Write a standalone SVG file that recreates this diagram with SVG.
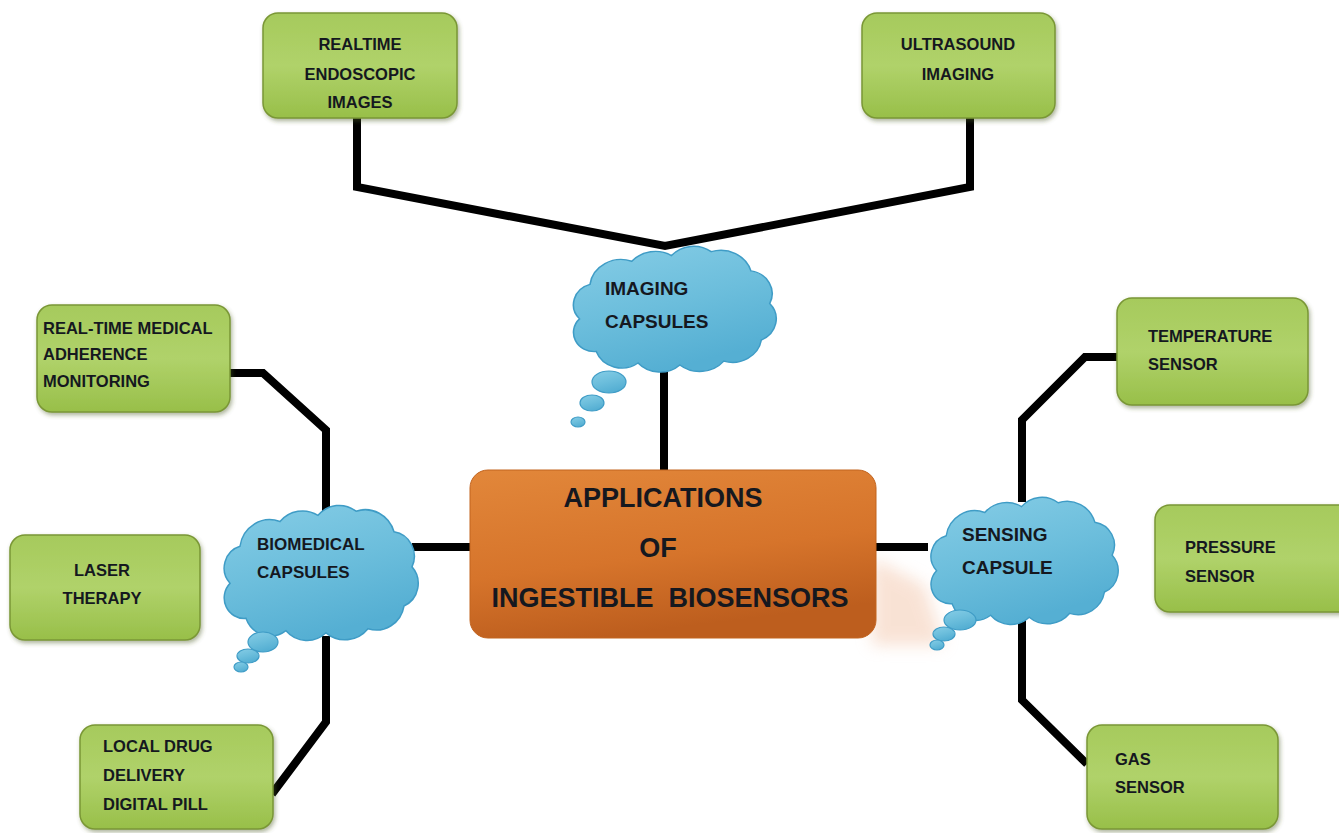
<svg xmlns="http://www.w3.org/2000/svg" width="1339" height="833" viewBox="0 0 1339 833">
  <defs>
    <linearGradient id="gGreen" x1="0" y1="0" x2="0" y2="1">
      <stop offset="0" stop-color="#a6ca5c"/>
      <stop offset="0.5" stop-color="#b0d26a"/>
      <stop offset="1" stop-color="#98bf49"/>
    </linearGradient>
    <linearGradient id="gOrange" x1="0" y1="0" x2="0.3" y2="1">
      <stop offset="0" stop-color="#e2873a"/>
      <stop offset="0.6" stop-color="#d6742b"/>
      <stop offset="1" stop-color="#bd5e1e"/>
    </linearGradient>
    <linearGradient id="gBlue" x1="0" y1="0" x2="0.4" y2="1">
      <stop offset="0" stop-color="#86cde6"/>
      <stop offset="0.55" stop-color="#6cbedc"/>
      <stop offset="1" stop-color="#55afd3"/>
    </linearGradient>
    <filter id="shadow" x="-10%" y="-10%" width="125%" height="130%">
      <feDropShadow dx="1.5" dy="2.5" stdDeviation="2" flood-color="#4b5a20" flood-opacity="0.45"/>
    </filter>
    <filter id="soft" x="-50%" y="-50%" width="200%" height="200%">
      <feGaussianBlur stdDeviation="8"/>
    </filter>
    <!-- generic cloud outline in a 200 x 133 unit box -->
    <path id="cloud" d="M12,78 A22,22 0 0 1 22,42 A30,30 0 0 1 62,18 A30,30 0 0 1 100,12 A28,28 0 0 1 138,8 A30,30 0 0 1 176,28 A24,24 0 0 1 194,62 A24,24 0 0 1 186,100 A28,28 0 0 1 150,122 A30,30 0 0 1 108,126 A28,28 0 0 1 68,124 A26,26 0 0 1 28,112 A20,20 0 0 1 12,78 Z"/>
  </defs>
  <style>
    .box { fill: url(#gGreen); stroke: #7a9736; stroke-width: 1.5; filter: url(#shadow); }
    .core { fill: url(#gOrange); stroke: #c2641f; stroke-width: 1; }
    .cloud { fill: url(#gBlue); stroke: #3f9cc6; stroke-width: 1.5; }
    .bub { fill: url(#gBlue); stroke: #3f9cc6; stroke-width: 1.2; }
    .t { font-family: "Liberation Sans", Arial, sans-serif; font-weight: bold; fill: #15181f; }
    .bt { font-size: 16.5px; }
    .ct { font-size: 19px; }
    .mt { font-size: 27px; }
    .mid { text-anchor: middle; }
    .link { fill: none; stroke: #000; stroke-width: 8; stroke-linejoin: miter; }
  </style>

  <rect width="1339" height="833" fill="#ffffff"/>

  <!-- faint peach glow beside the central box -->
  <polygon points="872,558 924,585 944,645 872,645" fill="#f3c6ab" opacity="0.5" filter="url(#soft)"/>

  <g id="connectors">
    <path class="link" d="M357,118 V187 L665,246 L970,187 V118"/>
    <path class="link" d="M664,368 V470"/>
    <path class="link" d="M470,547 H412"/>
    <path class="link" d="M876,547 H928"/>
    <path class="link" d="M230,373 H263 L326,430 V512"/>
    <path class="link" d="M326,636 V722 L272,794"/>
    <path class="link" d="M1118,357 H1085 L1022,420 V502"/>
    <path class="link" d="M1022,620 V700 L1087,764"/>
  </g>

  <g id="node-realtime">
    <rect class="box" x="263" y="13" width="194" height="105" rx="15"/>
    <text class="t bt mid" x="360" y="50">REALTIME</text>
    <text class="t bt mid" x="360" y="80">ENDOSCOPIC</text>
    <text class="t bt mid" x="360" y="108">IMAGES</text>
  </g>

  <g id="node-ultrasound">
    <rect class="box" x="862" y="13" width="193" height="105" rx="15"/>
    <text class="t bt mid" x="958" y="50">ULTRASOUND</text>
    <text class="t bt mid" x="958" y="80">IMAGING</text>
  </g>

  <g id="node-imaging">
    <use href="#cloud" class="cloud" vector-effect="non-scaling-stroke" transform="translate(567,244) scale(1.045,0.96)"/>
    <ellipse class="bub" cx="609" cy="382" rx="17" ry="11"/>
    <ellipse class="bub" cx="592" cy="403" rx="12" ry="8"/>
    <ellipse class="bub" cx="578" cy="422" rx="7" ry="5"/>
    <text class="t ct" x="605" y="295">IMAGING</text>
    <text class="t ct" x="605" y="328">CAPSULES</text>
  </g>

  <g id="node-applications">
    <rect class="core" x="470" y="470" width="406" height="168" rx="18"/>
    <text class="t mt mid" x="663" y="507">APPLICATIONS</text>
    <text class="t mt mid" x="658" y="557">OF</text>
    <text class="t mt mid" x="670" y="607" xml:space="preserve">INGESTIBLE  BIOSENSORS</text>
  </g>

  <g id="node-biomedical">
    <use href="#cloud" class="cloud" vector-effect="non-scaling-stroke" transform="translate(218,503) scale(1.0,1.03)"/>
    <ellipse class="bub" cx="263" cy="642" rx="15" ry="10"/>
    <ellipse class="bub" cx="248" cy="656" rx="11" ry="7"/>
    <ellipse class="bub" cx="241" cy="667" rx="7" ry="5"/>
    <text class="t" font-size="17" x="257" y="550">BIOMEDICAL</text>
    <text class="t" font-size="17" x="257" y="578">CAPSULES</text>
  </g>

  <g id="node-sensing">
    <use href="#cloud" class="cloud" vector-effect="non-scaling-stroke" transform="translate(925,495) scale(0.965,0.97)"/>
    <ellipse class="bub" cx="960" cy="620" rx="16" ry="10"/>
    <ellipse class="bub" cx="944" cy="634" rx="11" ry="7"/>
    <ellipse class="bub" cx="937" cy="645" rx="7" ry="5"/>
    <text class="t ct" x="962" y="541">SENSING</text>
    <text class="t ct" x="962" y="574">CAPSULE</text>
  </g>

  <g id="node-adherence">
    <rect class="box" x="37" y="305" width="193" height="107" rx="15"/>
    <text class="t bt" x="43" y="334">REAL-TIME MEDICAL</text>
    <text class="t bt" x="43" y="360">ADHERENCE</text>
    <text class="t bt" x="43" y="387">MONITORING</text>
  </g>

  <g id="node-laser">
    <rect class="box" x="10" y="535" width="190" height="105" rx="15"/>
    <text class="t bt mid" x="102" y="576">LASER</text>
    <text class="t bt mid" x="102" y="604">THERAPY</text>
  </g>

  <g id="node-drug">
    <rect class="box" x="80" y="725" width="193" height="104" rx="15"/>
    <text class="t bt" x="103" y="752">LOCAL DRUG</text>
    <text class="t bt" x="103" y="781">DELIVERY</text>
    <text class="t bt" x="103" y="810">DIGITAL PILL</text>
  </g>

  <g id="node-temperature">
    <rect class="box" x="1117" y="298" width="191" height="107" rx="15"/>
    <text class="t bt" x="1148" y="342">TEMPERATURE</text>
    <text class="t bt" x="1148" y="370">SENSOR</text>
  </g>

  <g id="node-pressure">
    <rect class="box" x="1155" y="505" width="200" height="107" rx="15"/>
    <text class="t bt" x="1185" y="553">PRESSURE</text>
    <text class="t bt" x="1185" y="582">SENSOR</text>
  </g>

  <g id="node-gas">
    <rect class="box" x="1087" y="725" width="191" height="104" rx="15"/>
    <text class="t bt" x="1115" y="765">GAS</text>
    <text class="t bt" x="1115" y="793">SENSOR</text>
  </g>
</svg>
